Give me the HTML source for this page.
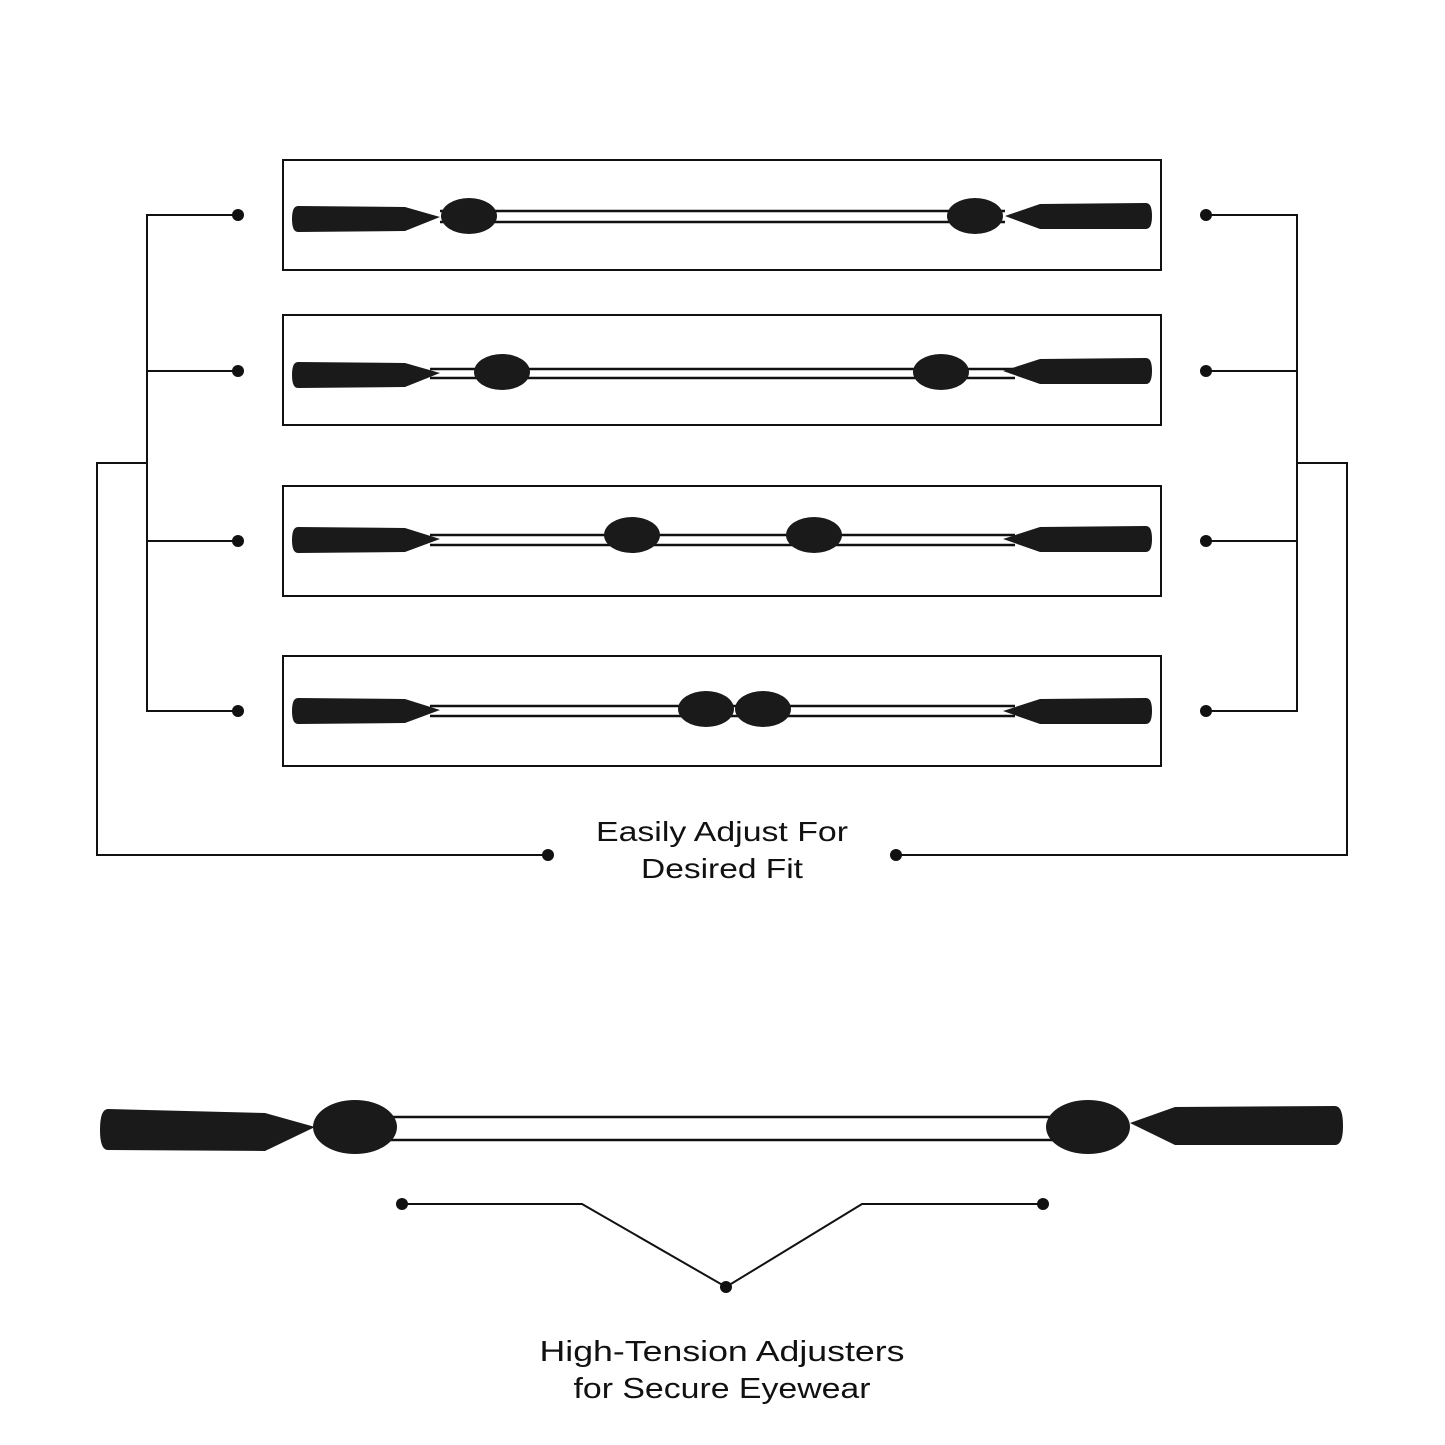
<!DOCTYPE html>
<html><head><meta charset="utf-8"><style>
html,body{margin:0;padding:0;background:#fff;}
svg{display:block;}
text{font-family:"Liberation Sans",sans-serif;fill:#111;}
</style></head><body>
<svg width="1445" height="1445" viewBox="0 0 1445 1445" xmlns="http://www.w3.org/2000/svg">
<rect width="1445" height="1445" fill="#fff"/>
<g fill="none" stroke="#111" stroke-width="2">
<rect x="283" y="160" width="878" height="110"/>
<rect x="283" y="315" width="878" height="110"/>
<rect x="283" y="486" width="878" height="110"/>
<rect x="283" y="656" width="878" height="110"/>
<polyline points="238,215 147,215 147,711 238,711"/>
<line x1="147" y1="371" x2="238" y2="371"/>
<line x1="147" y1="541" x2="238" y2="541"/>
<polyline points="1206,215 1297,215 1297,711 1206,711"/>
<line x1="1297" y1="371" x2="1206" y2="371"/>
<line x1="1297" y1="541" x2="1206" y2="541"/>
<polyline points="147,463 97,463 97,855 548,855"/>
<polyline points="1297,463 1347,463 1347,855 896,855"/>
<polyline points="402,1204 582,1204 726,1287 862,1204 1043,1204"/>
</g>
<g fill="#111">
<circle cx="238" cy="215" r="6"/><circle cx="238" cy="371" r="6"/><circle cx="238" cy="541" r="6"/><circle cx="238" cy="711" r="6"/>
<circle cx="1206" cy="215" r="6"/><circle cx="1206" cy="371" r="6"/><circle cx="1206" cy="541" r="6"/><circle cx="1206" cy="711" r="6"/>
<circle cx="548" cy="855" r="6"/><circle cx="896" cy="855" r="6"/>
<circle cx="402" cy="1204" r="6"/><circle cx="1043" cy="1204" r="6"/><circle cx="726" cy="1287" r="6"/>
</g>
<!-- strap rows -->
<g stroke="#111" stroke-width="2.5" fill="none">
<line x1="440" y1="211" x2="1005" y2="211"/><line x1="440" y1="222" x2="1005" y2="222"/>
<line x1="430" y1="369" x2="1015" y2="369"/><line x1="430" y1="378" x2="1015" y2="378"/>
<line x1="430" y1="535" x2="1015" y2="535"/><line x1="430" y1="545" x2="1015" y2="545"/>
<line x1="430" y1="706" x2="1015" y2="706"/><line x1="430" y1="716" x2="1015" y2="716"/>
<line x1="380" y1="1117" x2="1070" y2="1117"/><line x1="380" y1="1140" x2="1070" y2="1140"/>
</g>
<g fill="#1a1a1a">
<!-- row1 -->
<path d="M298,206 L405,207 L440,217 L405,231 L298,232 Q292,232 292,219 Q292,206 298,206Z"/>
<path d="M1146,203 L1040,204 L1005,216 L1040,229 L1146,229 Q1152,229 1152,216 Q1152,203 1146,203Z"/>
<ellipse cx="469" cy="216" rx="28" ry="18"/><ellipse cx="975" cy="216" rx="28" ry="18"/>
<!-- row2 -->
<path d="M298,362 L405,363 L440,373 L405,387 L298,388 Q292,388 292,375 Q292,362 298,362Z"/>
<path d="M1146,358 L1040,359 L1003,371 L1040,384 L1146,384 Q1152,384 1152,371 Q1152,358 1146,358Z"/>
<ellipse cx="502" cy="372" rx="28" ry="18"/><ellipse cx="941" cy="372" rx="28" ry="18"/>
<!-- row3 -->
<path d="M298,527 L405,528 L440,539 L405,552 L298,553 Q292,553 292,540 Q292,527 298,527Z"/>
<path d="M1146,526 L1040,527 L1003,539 L1040,552 L1146,552 Q1152,552 1152,539 Q1152,526 1146,526Z"/>
<ellipse cx="632" cy="535" rx="28" ry="18"/><ellipse cx="814" cy="535" rx="28" ry="18"/>
<!-- row4 -->
<path d="M298,698 L405,699 L440,710 L405,723 L298,724 Q292,724 292,711 Q292,698 298,698Z"/>
<path d="M1146,698 L1040,699 L1003,711 L1040,724 L1146,724 Q1152,724 1152,711 Q1152,698 1146,698Z"/>
<ellipse cx="706" cy="709" rx="28" ry="18"/><ellipse cx="763" cy="709" rx="28" ry="18"/>
<!-- bottom -->
<path d="M108,1109 L265,1113 L315,1127 L265,1151 L108,1150 Q100,1150 100,1130 Q100,1109 108,1109Z"/>
<path d="M1335,1106 L1175,1107 L1130,1123 L1175,1145 L1335,1145 Q1343,1145 1343,1126 Q1343,1106 1335,1106Z"/>
<ellipse cx="355" cy="1127" rx="42" ry="27"/><ellipse cx="1088" cy="1127" rx="42" ry="27"/>
</g>
<text x="722" y="841" font-size="28" text-anchor="middle" textLength="252" lengthAdjust="spacingAndGlyphs">Easily Adjust For</text>
<text x="722" y="878" font-size="28" text-anchor="middle" textLength="162" lengthAdjust="spacingAndGlyphs">Desired Fit</text>
<text x="722" y="1361" font-size="29" text-anchor="middle" textLength="365" lengthAdjust="spacingAndGlyphs">High-Tension Adjusters</text>
<text x="722" y="1398" font-size="29" text-anchor="middle" textLength="297" lengthAdjust="spacingAndGlyphs">for Secure Eyewear</text>
</svg>
</body></html>
